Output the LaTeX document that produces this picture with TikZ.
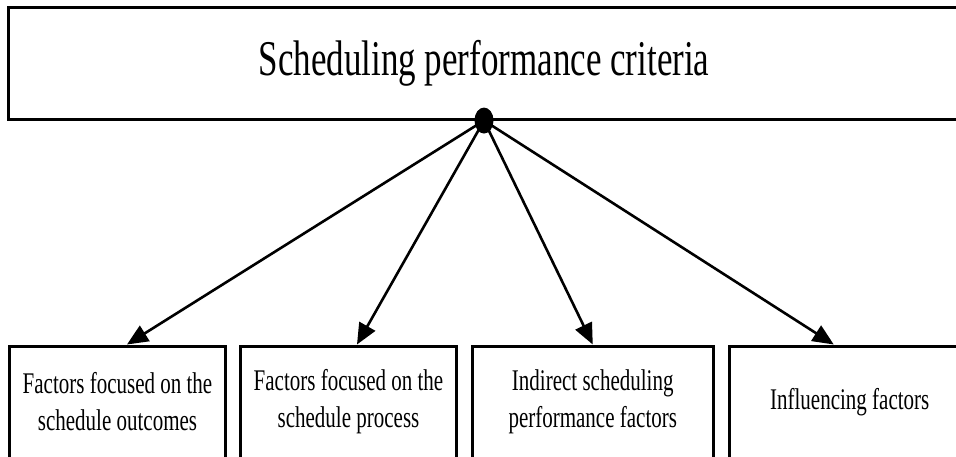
\documentclass[tikz,border=0pt]{standalone}
\usepackage{fontspec}
\newfontfamily\boxfont{Liberation Serif}[FakeStretch=0.7]
\usepackage{tikz}
\usetikzlibrary{arrows.meta}

\tikzset{
  critbox/.style={draw, line width=3pt, minimum width=951pt, minimum height=111.5pt,
    inner sep=0pt, font={\boxfont\fontsize{50}{60}\selectfont}},
  factorbox/.style={draw, line width=3pt, minimum height=112pt, inner sep=0pt,
    align=center, font={\boxfont\fontsize{30}{37}\selectfont}},
  toarrow/.style={line width=2.6pt, -{Triangle[length=21pt,width=18pt]}}
}

\begin{document}
\begin{tikzpicture}[x=1pt,y=-1pt]
\useasboundingbox (0,0) rectangle (956,457);

\node[critbox] (crit) at (484,63.3) {Scheduling performance criteria};

\node[factorbox, minimum width=216pt] (outcome) at (117.5,402)
  {Factors focused on the\\schedule outcomes};
\node[factorbox, minimum width=216pt] (process) at (348.5,402)
  {Factors focused on the\\schedule process};
\node[factorbox, minimum width=241.5pt] (indirect) at (592.75,402)
  {Indirect scheduling\\performance factors};
\node[factorbox, minimum width=241.5pt] (influence) at (849.75,402)
  {Influencing factors};

\draw[toarrow]
(crit.south) -- ([xshift=9.5pt]outcome.north);
\draw[toarrow]
(crit.south) -- ([xshift=8.5pt]process.north);
\draw[toarrow]
(crit.south) -- (indirect.north);
\draw[toarrow]
(crit.south) -- ([xshift=-16pt]influence.north);

\fill (crit.south) ellipse [x radius=9.5pt, y radius=13pt];
\end{tikzpicture}
\end{document}
